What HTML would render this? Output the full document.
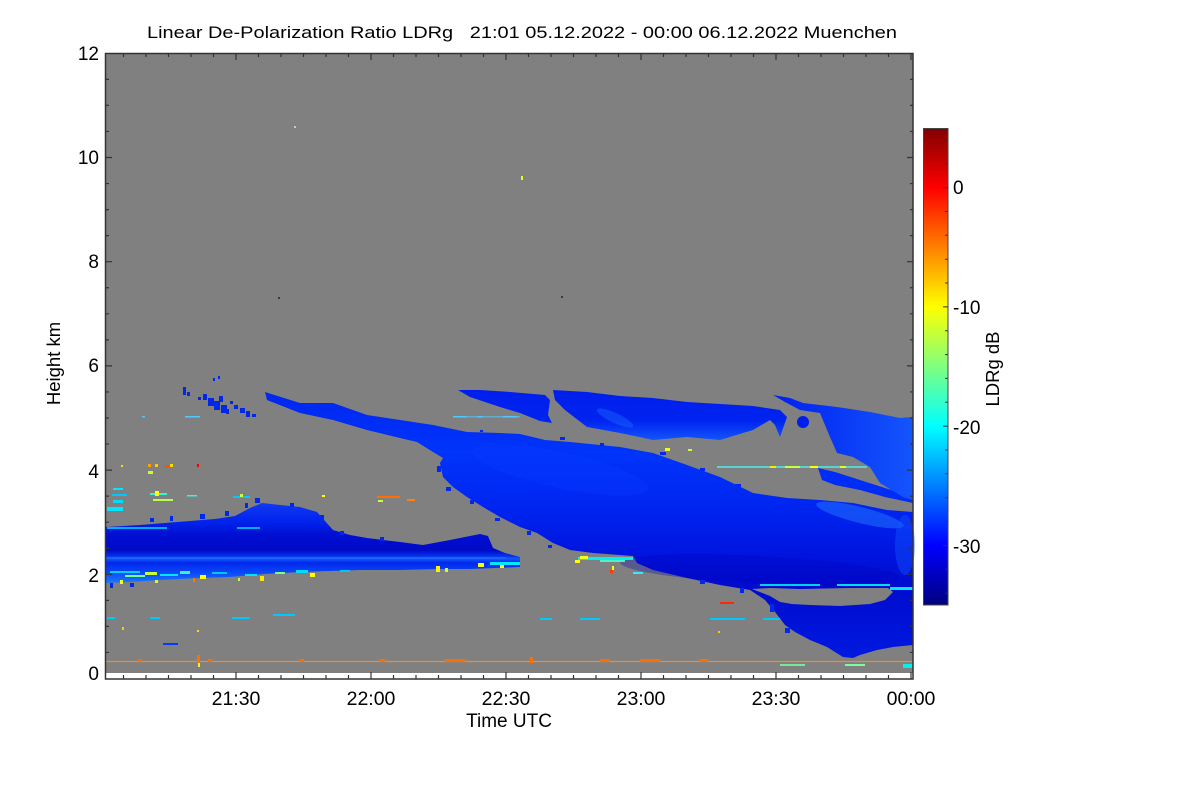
<!DOCTYPE html>
<html><head><meta charset="utf-8"><style>
html,body{margin:0;padding:0;background:#fff;}
svg{display:block;}
text{font-family:"Liberation Sans",Arial,sans-serif;fill:#000;}
</style></head><body>
<svg width="1200" height="800" viewBox="0 0 1200 800" xmlns="http://www.w3.org/2000/svg">
<defs>
<linearGradient id="jet" x1="0" y1="605" x2="0" y2="128" gradientUnits="userSpaceOnUse">
<stop offset="0" stop-color="rgb(0,0,128)"/>
<stop offset="0.125" stop-color="rgb(0,0,255)"/>
<stop offset="0.375" stop-color="rgb(0,255,255)"/>
<stop offset="0.625" stop-color="rgb(255,255,0)"/>
<stop offset="0.875" stop-color="rgb(255,0,0)"/>
<stop offset="1" stop-color="rgb(128,0,0)"/>
</linearGradient>
<linearGradient id="gA" x1="0" y1="500" x2="0" y2="585" gradientUnits="userSpaceOnUse">
<stop offset="0" stop-color="rgb(20,60,245)"/>
<stop offset="0.26" stop-color="rgb(0,35,235)"/>
<stop offset="0.41" stop-color="rgb(0,15,210)"/>
<stop offset="0.59" stop-color="rgb(0,10,200)"/>
<stop offset="0.66" stop-color="rgb(5,50,235)"/>
<stop offset="0.69" stop-color="rgb(20,90,250)"/>
<stop offset="0.74" stop-color="rgb(0,40,235)"/>
<stop offset="0.85" stop-color="rgb(10,70,248)"/>
<stop offset="1" stop-color="rgb(30,130,255)"/>
</linearGradient>
<linearGradient id="gB" x1="0" y1="400" x2="0" y2="660" gradientUnits="userSpaceOnUse">
<stop offset="0" stop-color="rgb(0,40,240)"/>
<stop offset="0.2" stop-color="rgb(0,52,250)"/>
<stop offset="0.4" stop-color="rgb(0,38,242)"/>
<stop offset="0.6" stop-color="rgb(0,20,222)"/>
<stop offset="0.72" stop-color="rgb(0,12,205)"/>
<stop offset="1" stop-color="rgb(0,25,225)"/>
</linearGradient>
<linearGradient id="gC" x1="0" y1="388" x2="0" y2="442" gradientUnits="userSpaceOnUse">
<stop offset="0" stop-color="rgb(0,30,235)"/>
<stop offset="0.6" stop-color="rgb(0,35,240)"/>
<stop offset="1" stop-color="rgb(20,90,252)"/>
</linearGradient>
<linearGradient id="gC3" x1="780" y1="0" x2="913" y2="0" gradientUnits="userSpaceOnUse">
<stop offset="0" stop-color="rgb(0,35,240)"/>
<stop offset="1" stop-color="rgb(20,85,252)"/>
</linearGradient>
</defs>

<!-- data background -->
<rect x="106" y="54" width="807" height="619" fill="#808080"/>

<!-- sparse upper-left cloud -->
<g fill="rgb(0,40,230)">
<rect x="183" y="387" width="3" height="8"/><rect x="187" y="392" width="3" height="4"/>
<rect x="203" y="394" width="4" height="6"/><rect x="208" y="398" width="6" height="8"/>
<rect x="214" y="401" width="6" height="9"/><rect x="219" y="396" width="4" height="6"/>
<rect x="221" y="405" width="6" height="8"/><rect x="226" y="409" width="3" height="5"/>
<rect x="234" y="405" width="4" height="4"/><rect x="240" y="408" width="5" height="5"/>
<rect x="246" y="411" width="4" height="6"/><rect x="252" y="414" width="4" height="3"/>
<rect x="213" y="378" width="2" height="3"/><rect x="218" y="376" width="2" height="3"/>
<rect x="198" y="397" width="3" height="3"/><rect x="230" y="401" width="3" height="3"/>
</g>

<!-- Mass B (main diagonal) -->
<polygon fill="url(#gB)" points="265,392 300,403 333,403 367,415 400,420 433,425 467,432 500,433 520,434 545,440 570,442 620,447 653,453 687,465 720,477 753,493 787,498 820,500 853,503 887,510 913,512 913,645 893,647 877,650 860,655 853,658 843,657 827,647 810,640 795,632 785,625 775,612 765,600 750,590 720,585 687,578 653,570 637,563 633,556 593,553 570,550 553,543 537,533 520,527 500,517 483,507 467,497 453,487 443,477 440,463 443,458 433,452 417,442 400,438 367,430 333,420 300,413 267,400"/>
<!-- jagged edge specks for B -->
<g fill="rgb(0,40,240)">
<rect x="437" y="466" width="4" height="6"/><rect x="446" y="487" width="5" height="4"/>
<rect x="470" y="500" width="4" height="4"/><rect x="495" y="518" width="5" height="3"/>
<rect x="527" y="531" width="4" height="4"/><rect x="548" y="545" width="4" height="3"/>
<rect x="660" y="452" width="6" height="3"/><rect x="700" y="468" width="5" height="3"/>
<rect x="735" y="484" width="6" height="3"/><rect x="700" y="580" width="5" height="4"/>
<rect x="740" y="588" width="4" height="5"/><rect x="770" y="604" width="4" height="8"/>
<rect x="785" y="628" width="5" height="5"/><rect x="480" y="430" width="3" height="2"/>
<rect x="560" y="437" width="5" height="3"/><rect x="600" y="443" width="4" height="3"/>
</g>
<!-- lighter patches in B -->
<ellipse cx="860" cy="515" rx="45" ry="8" transform="rotate(14 860 515)" fill="rgb(40,130,255)" opacity="0.45"/>
<ellipse cx="905" cy="545" rx="10" ry="30" fill="rgb(20,90,255)" opacity="0.4"/>
<ellipse cx="560" cy="470" rx="90" ry="18" transform="rotate(12 560 470)" fill="rgb(10,60,255)" opacity="0.3"/>
<ellipse cx="760" cy="570" rx="140" ry="14" transform="rotate(3 760 570)" fill="rgb(0,0,190)" opacity="0.3"/>
<!-- gray hole between B and lower right -->
<polygon fill="#808080" points="752,589 770,588 800,589 850,588 888,588 893,592 885,600 870,604 840,606 810,605 792,604 780,602 770,596"/>
<!-- strand connecting C3 to B -->
<polygon fill="rgb(0,45,245)" points="818,468 835,472 860,480 885,488 913,497 913,503 885,497 860,490 835,485 822,480"/>

<!-- Mass A (lower left band) -->
<polygon fill="url(#gA)" points="106,527 140,525 177,522 215,519 235,516 250,508 262,503 280,505 300,507 317,512 333,530 350,535 367,538 400,542 423,545 450,540 470,536 480,534 488,536 493,548 505,553 520,557 520,567 495,568 470,569 440,569 400,570 360,570 300,572 265,574 230,577 200,578 160,580 130,582 106,583"/>
<rect x="106" y="557" width="400" height="1.5" fill="rgb(60,150,255)" opacity="0.35"/>
<!-- jagged top specks of A -->
<g fill="rgb(0,40,235)">
<rect x="150" y="518" width="4" height="4"/><rect x="170" y="516" width="3" height="5"/>
<rect x="200" y="514" width="5" height="5"/><rect x="225" y="511" width="4" height="5"/>
<rect x="245" y="503" width="3" height="5"/><rect x="255" y="498" width="5" height="5"/>
<rect x="290" y="503" width="4" height="4"/><rect x="320" y="515" width="4" height="6"/>
<rect x="340" y="531" width="4" height="4"/><rect x="380" y="537" width="4" height="4"/>
<rect x="130" y="583" width="4" height="4"/><rect x="110" y="583" width="3" height="5"/>
</g>

<!-- C pieces -->
<polygon fill="url(#gC)" points="458,390 480,390 510,392 545,395 550,400 548,415 552,423 540,421 520,413 500,407 485,402 470,397"/>
<polygon fill="url(#gC)" points="553,390 587,392 620,396 653,398 687,402 720,404 753,406 780,410 787,417 780,437 775,425 770,420 753,430 720,440 687,437 653,440 620,433 587,427 565,410 555,400"/>
<circle cx="803" cy="422" r="6" fill="rgb(0,30,235)"/>
<polygon fill="url(#gC3)" points="773,395 790,398 803,403 837,407 870,412 900,418 913,417 913,500 903,497 880,483 870,467 853,457 837,453 830,437 820,413 800,410 785,402"/>
<ellipse cx="615" cy="418" rx="20" ry="5" transform="rotate(25 615 418)" fill="rgb(30,110,255)" opacity="0.4"/>

<!-- light cyan streak row at ~417 -->
<g fill="rgb(80,200,255)">
<rect x="185" y="416" width="15" height="1.5"/><rect x="142" y="416" width="3" height="1.5"/>
<rect x="453" y="416" width="14" height="1.5"/><rect x="477" y="416" width="6" height="1.5"/><rect x="503" y="416" width="14" height="1.5"/>
<rect x="460" y="416" width="60" height="1.5" opacity="0.6"/>
</g>

<!-- left speckles -->
<g>
<rect x="113" y="488" width="10" height="2" fill="rgb(0,230,255)"/>
<rect x="112" y="494" width="15" height="2" fill="rgb(0,200,255)"/>
<rect x="113" y="500" width="10" height="3" fill="rgb(0,220,255)"/>
<rect x="107" y="507" width="16" height="4" fill="rgb(0,230,255)"/>
<rect x="150" y="493" width="17" height="2" fill="rgb(60,240,200)"/>
<rect x="153" y="499" width="20" height="2" fill="rgb(180,255,80)"/>
<rect x="155" y="491" width="4" height="5" fill="rgb(255,255,0)"/>
<rect x="148" y="471" width="5" height="3" fill="rgb(200,255,40)"/>
<rect x="148" y="464" width="3" height="3" fill="rgb(255,160,0)"/>
<rect x="155" y="464" width="3" height="3" fill="rgb(255,200,0)"/>
<rect x="165" y="465" width="8" height="2" fill="rgb(255,80,0)"/>
<rect x="170" y="464" width="3" height="3" fill="rgb(255,220,0)"/>
<rect x="197" y="464" width="2" height="3" fill="rgb(255,0,0)"/>
<rect x="121" y="465" width="2" height="2" fill="rgb(255,220,0)"/>
<rect x="187" y="495" width="10" height="1.5" fill="rgb(60,240,220)"/>
<rect x="233" y="496" width="17" height="2" fill="rgb(0,200,255)"/>
<rect x="107" y="527" width="60" height="2" fill="rgb(0,210,255)" opacity="0.8"/>
<rect x="237" y="527" width="23" height="2" fill="rgb(0,210,255)" opacity="0.8"/>
<rect x="240" y="494" width="3" height="3" fill="rgb(200,255,60)"/>
<rect x="322" y="495" width="3" height="2" fill="rgb(255,255,0)"/>
</g>

<!-- bottom speckles of mass A -->
<g>
<rect x="110" y="571" width="30" height="2" fill="rgb(0,210,255)"/>
<rect x="125" y="575" width="20" height="2" fill="rgb(120,255,140)"/>
<rect x="145" y="572" width="12" height="3" fill="rgb(200,255,60)"/>
<rect x="160" y="574" width="18" height="2" fill="rgb(0,230,255)"/>
<rect x="180" y="571" width="10" height="3" fill="rgb(60,240,200)"/>
<rect x="200" y="575" width="6" height="4" fill="rgb(255,255,0)"/>
<rect x="212" y="572" width="15" height="2" fill="rgb(0,200,255)"/>
<rect x="245" y="574" width="12" height="2" fill="rgb(0,230,255)"/>
<rect x="260" y="576" width="4" height="5" fill="rgb(255,230,0)"/>
<rect x="275" y="572" width="10" height="2" fill="rgb(120,255,140)"/>
<rect x="296" y="570" width="12" height="3" fill="rgb(0,220,255)"/>
<rect x="310" y="573" width="5" height="4" fill="rgb(255,255,0)"/>
<rect x="120" y="580" width="3" height="4" fill="rgb(240,255,30)"/>
<rect x="155" y="580" width="3" height="3" fill="rgb(200,255,60)"/>
<rect x="193" y="578" width="2" height="4" fill="rgb(255,120,0)"/>
<rect x="238" y="578" width="2" height="3" fill="rgb(180,255,80)"/>
<rect x="340" y="570" width="10" height="2" fill="rgb(0,200,255)"/>
<rect x="436" y="566" width="4" height="6" fill="rgb(255,240,0)"/>
<rect x="445" y="568" width="3" height="4" fill="rgb(200,255,60)"/>
<rect x="490" y="562" width="30" height="3" fill="rgb(0,230,255)"/>
<rect x="478" y="563" width="6" height="4" fill="rgb(240,255,30)"/>
<rect x="500" y="565" width="4" height="3" fill="rgb(255,255,0)"/>
</g>

<!-- speckles at bottom edge of mass B -->
<g>
<rect x="578" y="557" width="55" height="3" fill="rgb(0,240,240)"/>
<rect x="580" y="556" width="8" height="3" fill="rgb(240,255,30)"/>
<rect x="600" y="560" width="25" height="2" fill="rgb(80,240,200)"/>
<rect x="575" y="560" width="5" height="3" fill="rgb(255,255,0)"/>
<rect x="610" y="570" width="3" height="3" fill="rgb(255,60,0)"/>
<rect x="612" y="566" width="2" height="4" fill="rgb(255,255,0)"/>
<rect x="633" y="572" width="10" height="2" fill="rgb(60,230,255)"/>
<rect x="760" y="584" width="60" height="2" fill="rgb(0,210,255)"/>
<rect x="837" y="584" width="53" height="2" fill="rgb(0,220,255)"/>
<rect x="890" y="587" width="23" height="3" fill="rgb(0,230,255)"/>
<rect x="720" y="602" width="14" height="2" fill="rgb(255,40,0)"/>
</g>

<!-- cyan/yellow row at ~467 -->
<g>
<rect x="717" y="466" width="150" height="2" fill="rgb(80,230,230)" opacity="0.8"/>
<rect x="770" y="466" width="6" height="2" fill="rgb(255,230,0)"/>
<rect x="785" y="466" width="15" height="2" fill="rgb(200,255,60)"/>
<rect x="810" y="466" width="8" height="2" fill="rgb(255,255,0)"/>
<rect x="840" y="466" width="6" height="2" fill="rgb(220,255,40)"/>
<rect x="665" y="448" width="5" height="3" fill="rgb(230,255,30)"/>
<rect x="688" y="449" width="4" height="2" fill="rgb(200,255,60)"/>
</g>

<!-- orange streak -->
<rect x="377" y="496" width="23" height="2" fill="rgb(255,110,0)"/>
<rect x="407" y="499" width="8" height="2" fill="rgb(255,130,0)"/>
<rect x="378" y="500" width="5" height="2" fill="rgb(200,255,60)"/>

<!-- cyan streaks ~617 -->
<g fill="rgb(0,200,255)">
<rect x="107" y="617" width="8" height="2"/><rect x="150" y="617" width="10" height="2"/>
<rect x="232" y="617" width="18" height="2"/><rect x="273" y="614" width="22" height="2"/>
<rect x="580" y="618" width="20" height="2"/><rect x="710" y="618" width="35" height="2"/>
<rect x="763" y="618" width="17" height="2"/><rect x="540" y="618" width="12" height="2"/>
</g>
<rect x="163" y="643" width="15" height="2" fill="rgb(0,60,255)"/>
<rect x="718" y="631" width="2" height="2" fill="rgb(255,200,0)"/>
<rect x="197" y="630" width="2" height="2" fill="rgb(255,220,0)"/>
<rect x="122" y="627" width="2" height="3" fill="rgb(255,200,0)"/>

<!-- bottom orange line -->
<line x1="106" y1="661.5" x2="913" y2="661.5" stroke="rgb(235,140,50)" stroke-width="1.2"/>
<g fill="rgb(255,110,0)">
<rect x="138" y="659" width="3" height="3"/><rect x="197" y="655" width="3" height="9"/>
<rect x="208" y="659" width="4" height="3"/><rect x="300" y="659" width="4" height="3"/>
<rect x="380" y="659" width="5" height="3"/><rect x="445" y="659" width="20" height="3"/>
<rect x="530" y="657" width="3" height="6"/><rect x="600" y="659" width="10" height="3"/>
<rect x="640" y="659" width="20" height="3"/><rect x="700" y="659" width="8" height="3"/>
</g>
<rect x="903" y="664" width="10" height="4" fill="rgb(0,240,240)"/>
<rect x="845" y="664" width="20" height="2" fill="rgb(120,255,160)"/>
<rect x="780" y="664" width="25" height="2" fill="rgb(120,255,160)" opacity="0.8"/>
<rect x="198" y="663" width="2" height="4" fill="rgb(230,255,40)"/>

<!-- isolated dots -->
<rect x="294" y="126" width="2" height="2" fill="rgb(200,200,200)"/>
<rect x="521" y="176" width="2" height="4" fill="rgb(220,255,40)"/>
<rect x="278" y="297" width="2" height="2" fill="rgb(60,60,60)"/>
<rect x="561" y="296" width="2" height="2" fill="rgb(60,60,60)"/>

<!-- white strip at bottom of plot -->
<rect x="106" y="673" width="807" height="6" fill="#fff"/>

<!-- axes frame -->
<rect x="105.5" y="53.5" width="807.5" height="625.5" fill="none" stroke="#333" stroke-width="1.5"/>

<!-- x ticks -->
<path stroke="#333" stroke-width="1.2" fill="none" d="
M123.5,679V675 M146,679V675 M168.5,679V675 M191,679V675 M213.5,679V675 M236,679V672
M258.5,679V675 M281,679V675 M303.5,679V675 M326,679V675 M348.5,679V675 M371,679V672
M393.5,679V675 M416,679V675 M438.5,679V675 M461,679V675 M483.5,679V675 M506,679V672
M528.5,679V675 M551,679V675 M573.5,679V675 M596,679V675 M618.5,679V675 M641,679V672
M663.5,679V675 M686,679V675 M708.5,679V675 M731,679V675 M753.5,679V675 M776,679V672
M798.5,679V675 M821,679V675 M843.5,679V675 M866,679V675 M888.5,679V675 M911,679V672
M123.5,54V57 M146,54V57 M168.5,54V57 M191,54V57 M213.5,54V57 M236,54V60
M258.5,54V57 M281,54V57 M303.5,54V57 M326,54V57 M348.5,54V57 M371,54V60
M393.5,54V57 M416,54V57 M438.5,54V57 M461,54V57 M483.5,54V57 M506,54V60
M528.5,54V57 M551,54V57 M573.5,54V57 M596,54V57 M618.5,54V57 M641,54V60
M663.5,54V57 M686,54V57 M708.5,54V57 M731,54V57 M753.5,54V57 M776,54V60
M798.5,54V57 M821,54V57 M843.5,54V57 M866,54V57 M888.5,54V57 M911,54V60
"/>
<!-- y ticks -->
<path stroke="#333" stroke-width="1.2" fill="none" d="
M106,652.45H109 M106,626.4H109 M106,600.35H109 M106,574.3H112 M106,548.25H109 M106,522.2H109 M106,496.15H109 M106,470.1H112
M106,444.05H109 M106,418H109 M106,391.95H109 M106,365.9H112 M106,339.85H109 M106,313.8H109 M106,287.75H109 M106,261.7H112
M106,235.65H109 M106,209.6H109 M106,183.55H109 M106,157.5H112 M106,131.45H109 M106,105.4H109 M106,79.35H109
M913,652.45H910 M913,626.4H910 M913,600.35H910 M913,574.3H907 M913,548.25H910 M913,522.2H910 M913,496.15H910 M913,470.1H907
M913,444.05H910 M913,418H910 M913,391.95H910 M913,365.9H907 M913,339.85H910 M913,313.8H910 M913,287.75H910 M913,261.7H907
M913,235.65H910 M913,209.6H910 M913,183.55H910 M913,157.5H907 M913,131.45H910 M913,105.4H910 M913,79.35H910
"/>

<!-- y labels -->
<g font-size="19" text-anchor="end">
<text x="99" y="60">12</text>
<text x="99" y="164">10</text>
<text x="99" y="268">8</text>
<text x="99" y="372">6</text>
<text x="99" y="478">4</text>
<text x="99" y="582">2</text>
<text x="99" y="680">0</text>
</g>
<!-- x labels -->
<g font-size="19.5" text-anchor="middle">
<text x="236" y="705">21:30</text>
<text x="371" y="705">22:00</text>
<text x="506" y="705">22:30</text>
<text x="641" y="705">23:00</text>
<text x="776" y="705">23:30</text>
<text x="911" y="705">00:00</text>
</g>
<text x="509" y="727" font-size="19" text-anchor="middle">Time UTC</text>
<text x="60" y="363.5" font-size="18.5" text-anchor="middle" transform="rotate(-90 60 363.5)">Height km</text>

<!-- title -->
<text x="147" y="38" font-size="17" textLength="750" lengthAdjust="spacingAndGlyphs" xml:space="preserve">Linear De-Polarization Ratio LDRg   21:01 05.12.2022 - 00:00 06.12.2022 Muenchen</text>

<!-- colorbar -->
<rect x="923" y="128" width="25" height="477" fill="url(#jet)"/>
<rect x="923.5" y="128.5" width="24.5" height="476.5" fill="none" stroke="#444" stroke-width="1"/>
<path stroke="#333" stroke-width="1" fill="none" d="
M948,545.4H943 M948,426.1H943 M948,306.9H943 M948,187.6H943
M948,569.3H945 M948,521.5H945 M948,497.7H945 M948,473.8H945 M948,450H945
M948,402.3H945 M948,378.4H945 M948,354.6H945 M948,330.7H945
M948,283H945 M948,259.2H945 M948,235.3H945 M948,211.5H945
M948,163.8H945 M948,139.9H945 M948,593.2H945
"/>
<g font-size="19">
<text x="953" y="194">0</text>
<text x="953" y="314">-10</text>
<text x="953" y="434">-20</text>
<text x="953" y="553">-30</text>
</g>
<text x="999" y="369" font-size="18.5" text-anchor="middle" transform="rotate(-90 999 369)">LDRg dB</text>
</svg>
</body></html>
